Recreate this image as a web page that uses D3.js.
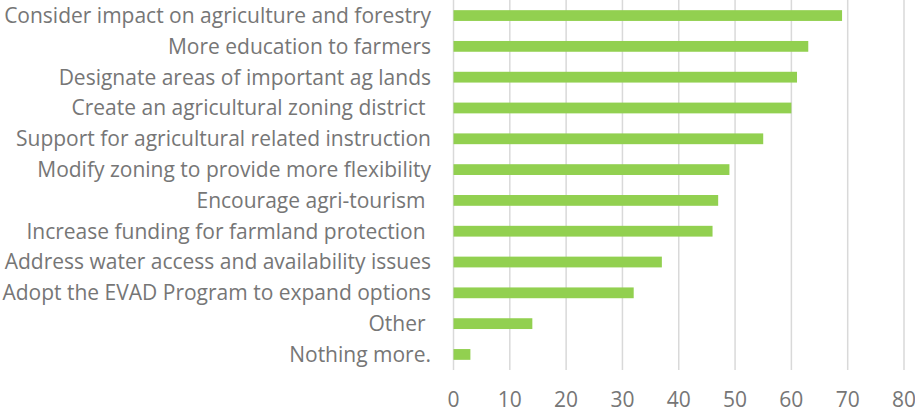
<!DOCTYPE html>
<html lang="en">
<head>
    <meta charset="UTF-8">
    <title>Agriculture priorities</title>
    <script src="https://cdnjs.cloudflare.com/ajax/libs/d3/7.8.5/d3.min.js"></script>
    <style>
        body { margin: 0; background: #fff; }
        text { font-family: "Open Sans", sans-serif; fill: #767676; }
        .grid line { stroke: #d9d9d9; stroke-width: 1.5px; }
    </style>
</head>
<body>
<svg width="915" height="411"></svg>
<script>
    var categories = [
        "Consider impact on agriculture and forestry",
        "More education to farmers",
        "Designate areas of important ag lands",
        "Create an agricultural zoning district ",
        "Support for agricultural related instruction",
        "Modify zoning to provide more flexibility",
        "Encourage agri-tourism ",
        "Increase funding for farmland protection ",
        "Address water access and availability issues",
        "Adopt the EVAD Program to expand options",
        "Other ",
        "Nothing more."
    ];
    var values = [69, 63, 61, 60, 55, 49, 47, 46, 37, 32, 14, 3];
    var ticks = [0, 10, 20, 30, 40, 50, 60, 70, 80];

    var svg = d3.select("svg");
    var plotLeft = 453.5, plotRight = 904, plotTop = 0, plotBottom = 370;

    var x = d3.scaleLinear().domain([0, 80]).range([plotLeft, plotRight]);
    var y = d3.scaleBand().domain(categories).range([plotTop, plotBottom]).paddingInner(0.65).paddingOuter(0.33);

    // vertical gridlines
    svg.append("g").attr("class", "grid")
        .selectAll("line")
        .data(ticks)
        .enter().append("line")
        .attr("x1", function (d) { return x(d); })
        .attr("x2", function (d) { return x(d); })
        .attr("y1", plotTop)
        .attr("y2", plotBottom);

    svg.selectAll(".bar")
        .data(values)
        .enter().append("rect")
        .attr("class", "bar")
        .attr("x", x(0))
        .attr("y", function (d, i) { return y(categories[i]); })
        .attr("width", function (d) { return x(d) - x(0); })
        .attr("height", y.bandwidth())
        .style("fill", "#92d050");

    // category labels
    svg.selectAll(".cat")
        .data(categories)
        .enter().append("text")
        .attr("class", "cat")
        .attr("x", 431)
        .attr("y", function (d) { return y(d) + y.bandwidth() / 2; })
        .attr("dy", "0.35em")
        .attr("text-anchor", "end")
        .style("font-size", "21px")
        .style("white-space", "pre")
        .text(function (d) { return d; });

    // value axis labels
    svg.selectAll(".tick-label")
        .data(ticks)
        .enter().append("text")
        .attr("class", "tick-label")
        .attr("x", function (d) { return x(d); })
        .attr("y", 400)
        .attr("dy", "0.35em")
        .attr("text-anchor", "middle")
        .style("font-size", "21px")
        .text(function (d) { return d; });
</script>
</body>
</html>
